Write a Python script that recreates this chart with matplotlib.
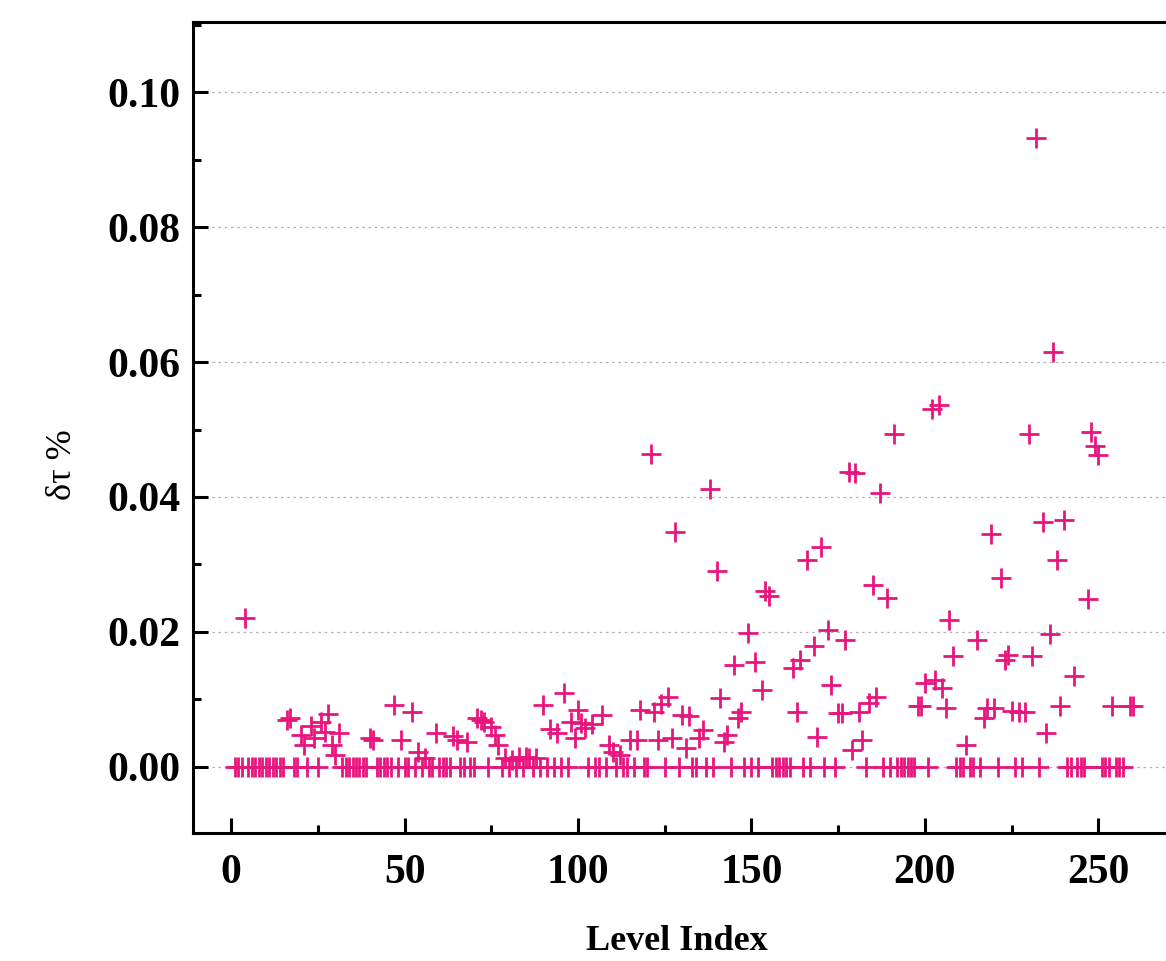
import matplotlib
matplotlib.use("Agg")
import matplotlib.pyplot as plt
from matplotlib.ticker import MultipleLocator, FormatStrFormatter

# Levels with non-zero deviation
nz_index = [4, 16, 17, 20, 21, 23, 24, 26, 27, 28, 29, 30, 31, 40, 41, 47, 49, 52, 54, 56,
            59, 64, 65, 68, 71, 72, 73, 75, 76, 77, 79, 81, 83, 85, 86, 88, 90, 92, 94, 96,
            98, 99, 100, 101, 102, 104, 107, 109, 110, 112, 115, 117, 118, 121, 122, 123, 124, 126, 127, 128,
            130, 131, 132, 135, 136, 138, 140, 141, 142, 143, 145, 146, 147, 149, 151, 153, 154, 155, 162, 163,
            164, 166, 168, 169, 170, 172, 173, 175, 176, 177, 178, 179, 180, 181, 182, 184, 185, 186, 187, 189,
            191, 198, 199, 200, 202, 203, 204, 205, 206, 207, 208, 212, 215, 217, 218, 219, 220, 222, 223, 224,
            225, 227, 229, 230, 231, 232, 234, 235, 236, 237, 238, 239, 240, 243, 247, 248, 249, 250, 254, 259,
            260]
nz_value = [0.0220, 0.0070, 0.0072, 0.0047, 0.0033, 0.0060, 0.0043, 0.0067, 0.0052, 0.0079,
            0.0033, 0.0018, 0.0050, 0.0043, 0.0040, 0.0092, 0.0040, 0.0081, 0.0022, 0.0013,
            0.0050, 0.0046, 0.0040, 0.0037, 0.0073, 0.0070, 0.0066, 0.0059, 0.0047, 0.0033,
            0.0013, 0.0010, 0.0015, 0.0015, 0.0013, 0.0013, 0.0092, 0.0056, 0.0050, 0.0110,
            0.0067, 0.0043, 0.0084, 0.0065, 0.0058, 0.0064, 0.0077, 0.0033, 0.0022, 0.0018,
            0.0040, 0.0040, 0.0084, 0.0464, 0.0081, 0.0040, 0.0093, 0.0104, 0.0043, 0.0348,
            0.0077, 0.0028, 0.0076, 0.0043, 0.0055, 0.0412, 0.0290, 0.0102, 0.0037, 0.0047,
            0.0151, 0.0073, 0.0081, 0.0198, 0.0156, 0.0114, 0.0260, 0.0253, 0.0147, 0.0081,
            0.0159, 0.0307, 0.0179, 0.0044, 0.0326, 0.0203, 0.0121, 0.0080, 0.0080, 0.0188,
            0.0437, 0.0025, 0.0436, 0.0081, 0.0040, 0.0095, 0.0270, 0.0104, 0.0406, 0.0250,
            0.0493, 0.0090, 0.0090, 0.0124, 0.0530, 0.0129, 0.0536, 0.0117, 0.0088, 0.0218,
            0.0164, 0.0033, 0.0188, 0.0073, 0.0088, 0.0345, 0.0088, 0.0280, 0.0159, 0.0166,
            0.0083, 0.0081, 0.0081, 0.0493, 0.0164, 0.0932, 0.0363, 0.0050, 0.0197, 0.0615,
            0.0307, 0.0090, 0.0366, 0.0135, 0.0249, 0.0496, 0.0476, 0.0462, 0.0090, 0.0090,
            0.0090]

# Levels with zero deviation
zero_index = [1, 2, 3, 5, 6, 7, 8, 9, 10, 11, 12, 13, 14, 15, 18, 19, 22, 25, 32, 33,
              34, 35, 36, 37, 38, 39, 42, 43, 44, 45, 46, 48, 50, 51, 53, 55, 57, 58, 60, 61,
              62, 63, 66, 67, 69, 70, 74, 78, 80, 82, 84, 87, 89, 91, 93, 95, 97, 103, 105, 106,
              108, 111, 113, 114, 116, 119, 120, 125, 129, 133, 134, 137, 139, 144, 148, 150, 152, 156, 157, 158,
              159, 160, 161, 165, 167, 171, 174, 183, 188, 190, 192, 193, 194, 195, 196, 197, 201, 209, 210, 211,
              213, 214, 216, 221, 226, 228, 233, 241, 242, 244, 245, 246, 251, 252, 253, 255, 256, 257]
zero_value = [0.0] * len(zero_index)

x_ticks = [0, 50, 100, 150, 200, 250]
y_ticks = [0.00, 0.02, 0.04, 0.06, 0.08, 0.10]

color = "#E8157F"

fig = plt.figure(figsize=(11.66, 9.61), dpi=100)
ax = fig.add_axes([193 / 1166, 1 - 833 / 961, (1185 - 193) / 1166, (833 - 22) / 961])

ax.plot(zero_index + nz_index, zero_value + nz_value, linestyle="none", marker="+",
        markersize=14.5, markeredgewidth=2.0, color=color, zorder=3)

ax.set_xlim(-11, 275)
ax.set_ylim(-0.0098, 0.1104)
ax.set_xticks(x_ticks)
ax.set_yticks(y_ticks)
ax.xaxis.set_minor_locator(MultipleLocator(25))
ax.yaxis.set_minor_locator(MultipleLocator(0.01))
ax.yaxis.set_major_formatter(FormatStrFormatter("%.2f"))

ax.grid(axis="y", which="major", color="#b0b0b0", linestyle=(0, (2, 3)), linewidth=0.9, zorder=0)
ax.set_axisbelow(True)

for s in ax.spines.values():
    s.set_linewidth(2.2)

ax.tick_params(axis="both", which="major", direction="in", length=11, width=2.2)
ax.tick_params(axis="both", which="minor", direction="in", length=6, width=2.2)
ax.tick_params(axis="y", which="both", right=False, pad=9)
ax.tick_params(axis="x", which="both", top=False, pad=15)

for lab in ax.get_xticklabels() + ax.get_yticklabels():
    lab.set_fontfamily("Liberation Serif")
    lab.set_fontweight("bold")
    lab.set_fontsize(30)

ax.set_xlabel("Level Index", fontfamily="Liberation Serif", fontweight="bold", fontsize=26)
ax.xaxis.set_label_coords((677 - 193) / (1185 - 193), -0.113)
ax.set_ylabel("δτ %", fontfamily="Liberation Serif", fontsize=26)
ax.yaxis.set_label_coords(-0.115, (833 - 465) / (833 - 22))

fig.savefig("out.png", dpi=100)
